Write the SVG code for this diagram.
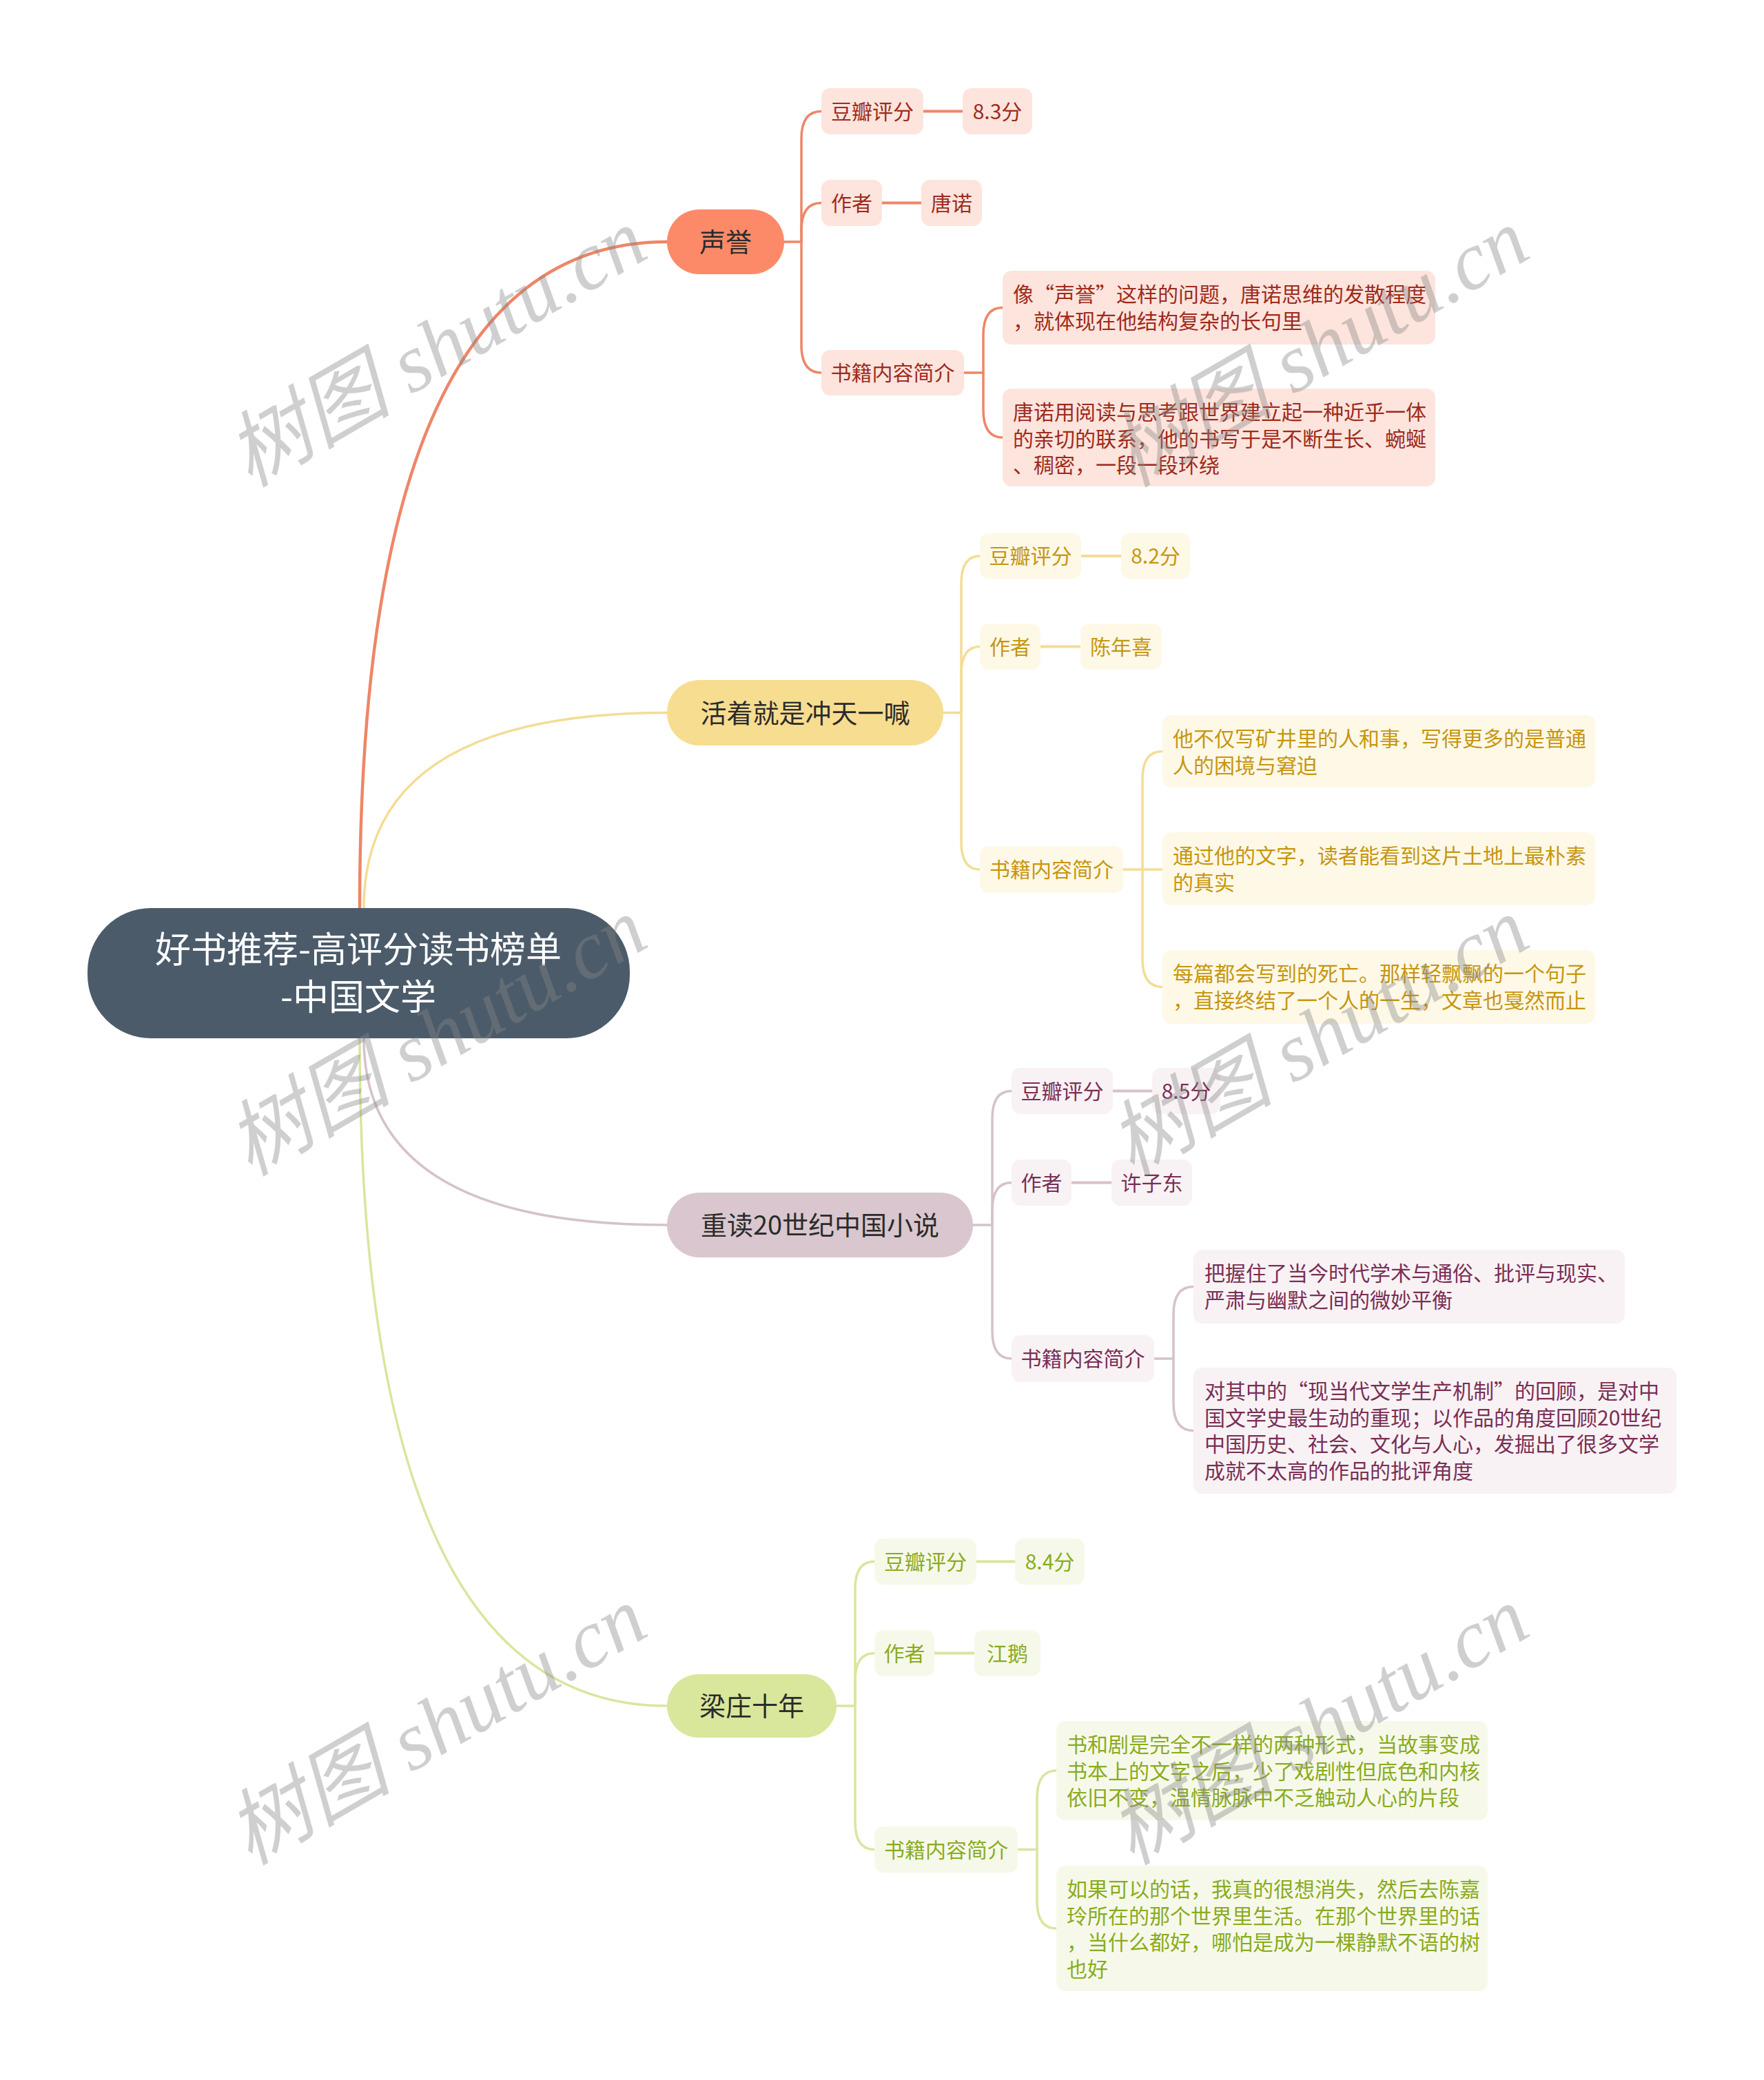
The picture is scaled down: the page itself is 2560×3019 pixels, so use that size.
<svg xmlns="http://www.w3.org/2000/svg" width="2560" height="3019" viewBox="0 0 2560 3019">
<style>
text{font-family:"Noto Sans CJK SC","Liberation Sans",sans-serif;}
.rt{font-size:52px;fill:#ffffff;text-anchor:middle;}
.bt{font-size:38px;fill:#2b2b2b;text-anchor:middle;}
.st{font-size:30px;text-anchor:middle;}
.lt{font-size:30px;}
.c{fill:none;stroke-linecap:round;}
.c1{stroke:#EE8667;}
.c2{stroke:#F3DD95;}
.c3{stroke:#D5C2CA;}
.c4{stroke:#D8E69F;}
.s1{fill:#FDE4DD;} .t1{fill:#9E2B1B;}
.s2{fill:#FEF8E7;} .t2{fill:#C6960F;}
.s3{fill:#F8F2F4;} .t3{fill:#7A2E55;}
.s4{fill:#F6F9E9;} .t4{fill:#8AAB1F;}
.wm{font-family:"Liberation Serif","Noto Sans CJK SC",serif;font-style:italic;font-size:120px;fill:#888888;fill-opacity:0.4;text-anchor:middle;}
</style>
<rect width="2560" height="3019" fill="#ffffff"/>
<g id="connectors">
  <path class="c c1" stroke-width="4.5" d="M 522 1318 Q 522 351 968 351"/>
  <path class="c c2" stroke-width="3.5" d="M 528 1318 Q 528 1034.5 968 1034.5"/>
  <path class="c c3" stroke-width="3.5" d="M 528 1507 Q 528 1778 968 1778"/>
  <path class="c c4" stroke-width="3.5" d="M 522 1507 Q 522 2476 968 2476"/>
  <!-- branch 1 -->
  <g class="c c1" stroke-width="3.5">
    <path d="M 1138 351 H 1163"/>
    <path d="M 1163 351 V 201.5 Q 1163 161.5 1192 161.5"/>
    <path d="M 1163 351 V 334.5 Q 1163 294.5 1192 294.5"/>
    <path d="M 1163 351 V 501 Q 1163 541 1192 541"/>
    <path d="M 1340 161.5 H 1397" stroke-width="4"/>
    <path d="M 1280 294.5 H 1337" stroke-width="4"/>
    <path d="M 1399 541 H 1427"/>
    <path d="M 1427 541 V 486.5 Q 1427 446.5 1455 446.5"/>
    <path d="M 1427 541 V 595 Q 1427 635 1455 635"/>
  </g>
  <!-- branch 2 -->
  <g class="c c2" stroke-width="3.5">
    <path d="M 1369 1034.5 H 1395"/>
    <path d="M 1395 1034.5 V 847 Q 1395 807 1422 807"/>
    <path d="M 1395 1034.5 V 978.5 Q 1395 938.5 1422 938.5"/>
    <path d="M 1395 1034.5 V 1222 Q 1395 1262 1422 1262"/>
    <path d="M 1569 807 H 1627" stroke-width="4"/>
    <path d="M 1510 938.5 H 1568" stroke-width="4"/>
    <path d="M 1630 1262 H 1687"/>
    <path d="M 1658 1262 V 1130.5 Q 1658 1090.5 1687 1090.5"/>
    <path d="M 1658 1262 V 1392.5 Q 1658 1432.5 1687 1432.5"/>
  </g>
  <!-- branch 3 -->
  <g class="c c3" stroke-width="3.5">
    <path d="M 1412 1778 H 1440"/>
    <path d="M 1440 1778 V 1623.5 Q 1440 1583.5 1468 1583.5"/>
    <path d="M 1440 1778 V 1756.5 Q 1440 1716.5 1468 1716.5"/>
    <path d="M 1440 1778 V 1932 Q 1440 1972 1468 1972"/>
    <path d="M 1615 1583.5 H 1672" stroke-width="4"/>
    <path d="M 1555 1716.5 H 1613" stroke-width="4"/>
    <path d="M 1675 1972 H 1703"/>
    <path d="M 1703 1972 V 1907.5 Q 1703 1867.5 1732 1867.5"/>
    <path d="M 1703 1972 V 2036.5 Q 1703 2076.5 1732 2076.5"/>
  </g>
  <!-- branch 4 -->
  <g class="c c4" stroke-width="3.5">
    <path d="M 1214 2476 H 1241"/>
    <path d="M 1241 2476 V 2306.5 Q 1241 2266.5 1269 2266.5"/>
    <path d="M 1241 2476 V 2439.5 Q 1241 2399.5 1269 2399.5"/>
    <path d="M 1241 2476 V 2644.5 Q 1241 2684.5 1269 2684.5"/>
    <path d="M 1417 2266.5 H 1473" stroke-width="4"/>
    <path d="M 1356 2399.5 H 1414" stroke-width="4"/>
    <path d="M 1477 2684.5 H 1505"/>
    <path d="M 1505 2684.5 V 2610 Q 1505 2570 1533 2570"/>
    <path d="M 1505 2684.5 V 2759 Q 1505 2799 1533 2799"/>
  </g>
</g>

<g id="root">
  <rect x="127" y="1318" width="787" height="189" rx="92" fill="#4B5B6A"/>
  <text class="rt" x="520" y="1397">好书推荐-高评分读书榜单</text>
  <text class="rt" x="520" y="1466">-中国文学</text>
</g>

<!-- Branch 1 -->
<g id="b1">
  <rect x="968" y="304" width="170" height="94" rx="47" fill="#FC8A68"/>
  <text class="bt" x="1053" y="365">声誉</text>
</g>
<g id="b1-rating"><rect class="s1" x="1192" y="128" width="148" height="67" rx="13"/><text class="st t1" x="1266" y="172.5">豆瓣评分</text></g>
<g id="b1-rating-v"><rect class="s1" x="1397" y="128" width="101" height="67" rx="13"/><text class="st t1" x="1447.5" y="172.5">8.3分</text></g>
<g id="b1-author"><rect class="s1" x="1192" y="261" width="88" height="67" rx="13"/><text class="st t1" x="1236" y="305.5">作者</text></g>
<g id="b1-author-v"><rect class="s1" x="1337" y="261" width="88" height="67" rx="13"/><text class="st t1" x="1381" y="305.5">唐诺</text></g>
<g id="b1-intro"><rect class="s1" x="1192" y="508" width="207" height="66" rx="13"/><text class="st t1" x="1295.5" y="552">书籍内容简介</text></g>
<g id="b1-l1"><rect class="s1" x="1455" y="393" width="628" height="107" rx="13"/>
  <text class="lt t1" x="1470" y="438">像“声誉”这样的问题，唐诺思维的发散程度</text>
  <text class="lt t1" x="1470" y="476.5">，就体现在他结构复杂的长句里</text></g>
<g id="b1-l2"><rect class="s1" x="1455" y="564" width="628" height="142" rx="13"/>
  <text class="lt t1" x="1470" y="609">唐诺用阅读与思考跟世界建立起一种近乎一体</text>
  <text class="lt t1" x="1470" y="647.5">的亲切的联系，他的书写于是不断生长、蜿蜒</text>
  <text class="lt t1" x="1470" y="686">、稠密，一段一段环绕</text></g>

<!-- Branch 2 -->
<g id="b2">
  <rect x="968" y="987" width="401" height="95" rx="47" fill="#F7DD90"/>
  <text class="bt" x="1168.5" y="1049">活着就是冲天一喊</text>
</g>
<g id="b2-rating"><rect class="s2" x="1422" y="774" width="147" height="66" rx="13"/><text class="st t2" x="1495.5" y="818">豆瓣评分</text></g>
<g id="b2-rating-v"><rect class="s2" x="1627" y="774" width="100" height="66" rx="13"/><text class="st t2" x="1677" y="818">8.2分</text></g>
<g id="b2-author"><rect class="s2" x="1422" y="905" width="88" height="67" rx="13"/><text class="st t2" x="1466" y="949.5">作者</text></g>
<g id="b2-author-v"><rect class="s2" x="1568" y="905" width="118" height="67" rx="13"/><text class="st t2" x="1627" y="949.5">陈年喜</text></g>
<g id="b2-intro"><rect class="s2" x="1422" y="1228" width="208" height="68" rx="13"/><text class="st t2" x="1526" y="1273">书籍内容简介</text></g>
<g id="b2-l1"><rect class="s2" x="1687" y="1038" width="628" height="105" rx="13"/>
  <text class="lt t2" x="1702" y="1083">他不仅写矿井里的人和事，写得更多的是普通</text>
  <text class="lt t2" x="1702" y="1121.5">人的困境与窘迫</text></g>
<g id="b2-l2"><rect class="s2" x="1687" y="1208" width="628" height="106" rx="13"/>
  <text class="lt t2" x="1702" y="1253">通过他的文字，读者能看到这片土地上最朴素</text>
  <text class="lt t2" x="1702" y="1291.5">的真实</text></g>
<g id="b2-l3"><rect class="s2" x="1687" y="1379" width="628" height="107" rx="13"/>
  <text class="lt t2" x="1702" y="1424">每篇都会写到的死亡。那样轻飘飘的一个句子</text>
  <text class="lt t2" x="1702" y="1462.5">，直接终结了一个人的一生，文章也戛然而止</text></g>

<!-- Branch 3 -->
<g id="b3">
  <rect x="968" y="1731" width="444" height="94" rx="47" fill="#D9C6CE"/>
  <text class="bt" x="1190" y="1792">重读20世纪中国小说</text>
</g>
<g id="b3-rating"><rect class="s3" x="1468" y="1550" width="147" height="67" rx="13"/><text class="st t3" x="1541.5" y="1594.5">豆瓣评分</text></g>
<g id="b3-rating-v"><rect class="s3" x="1672" y="1550" width="99" height="67" rx="13"/><text class="st t3" x="1721.5" y="1594.5">8.5分</text></g>
<g id="b3-author"><rect class="s3" x="1468" y="1683" width="87" height="67" rx="13"/><text class="st t3" x="1511.5" y="1727.5">作者</text></g>
<g id="b3-author-v"><rect class="s3" x="1613" y="1683" width="117" height="67" rx="13"/><text class="st t3" x="1671.5" y="1727.5">许子东</text></g>
<g id="b3-intro"><rect class="s3" x="1468" y="1938" width="207" height="68" rx="13"/><text class="st t3" x="1571.5" y="1983">书籍内容简介</text></g>
<g id="b3-l1"><rect class="s3" x="1732" y="1814" width="626" height="107" rx="13"/>
  <text class="lt t3" x="1748" y="1859">把握住了当今时代学术与通俗、批评与现实、</text>
  <text class="lt t3" x="1748" y="1897.5">严肃与幽默之间的微妙平衡</text></g>
<g id="b3-l2"><rect class="s3" x="1732" y="1985" width="701" height="183" rx="13"/>
  <text class="lt t3" x="1748" y="2030">对其中的“现当代文学生产机制”的回顾，是对中</text>
  <text class="lt t3" x="1748" y="2068.5">国文学史最生动的重现；以作品的角度回顾20世纪</text>
  <text class="lt t3" x="1748" y="2107">中国历史、社会、文化与人心，发掘出了很多文学</text>
  <text class="lt t3" x="1748" y="2145.5">成就不太高的作品的批评角度</text></g>

<!-- Branch 4 -->
<g id="b4">
  <rect x="968" y="2430" width="246" height="92" rx="46" fill="#D8E79B"/>
  <text class="bt" x="1091" y="2490">梁庄十年</text>
</g>
<g id="b4-rating"><rect class="s4" x="1269" y="2233" width="148" height="67" rx="13"/><text class="st t4" x="1343" y="2277.5">豆瓣评分</text></g>
<g id="b4-rating-v"><rect class="s4" x="1473" y="2233" width="101" height="67" rx="13"/><text class="st t4" x="1523.5" y="2277.5">8.4分</text></g>
<g id="b4-author"><rect class="s4" x="1269" y="2366" width="87" height="67" rx="13"/><text class="st t4" x="1312.5" y="2410.5">作者</text></g>
<g id="b4-author-v"><rect class="s4" x="1414" y="2366" width="96" height="67" rx="13"/><text class="st t4" x="1462" y="2410.5">江鹅</text></g>
<g id="b4-intro"><rect class="s4" x="1269" y="2651" width="208" height="67" rx="13"/><text class="st t4" x="1373" y="2695.5">书籍内容简介</text></g>
<g id="b4-l1"><rect class="s4" x="1533" y="2498" width="626" height="144" rx="13"/>
  <text class="lt t4" x="1548" y="2543">书和剧是完全不一样的两种形式，当故事变成</text>
  <text class="lt t4" x="1548" y="2581.5">书本上的文字之后，少了戏剧性但底色和内核</text>
  <text class="lt t4" x="1548" y="2620">依旧不变，温情脉脉中不乏触动人心的片段</text></g>
<g id="b4-l2"><rect class="s4" x="1533" y="2708" width="626" height="182" rx="13"/>
  <text class="lt t4" x="1548" y="2753">如果可以的话，我真的很想消失，然后去陈嘉</text>
  <text class="lt t4" x="1548" y="2791.5">玲所在的那个世界里生活。在那个世界里的话</text>
  <text class="lt t4" x="1548" y="2830">，当什么都好，哪怕是成为一棵静默不语的树</text>
  <text class="lt t4" x="1548" y="2868.5">也好</text></g>

<g id="watermarks">
  <text class="wm" transform="translate(654 540) rotate(-30)">树图 shutu.cn</text>
  <text class="wm" transform="translate(654 1540) rotate(-30)">树图 shutu.cn</text>
  <text class="wm" transform="translate(654 2540) rotate(-30)">树图 shutu.cn</text>
  <text class="wm" transform="translate(1934 540) rotate(-30)">树图 shutu.cn</text>
  <text class="wm" transform="translate(1934 1540) rotate(-30)">树图 shutu.cn</text>
  <text class="wm" transform="translate(1934 2540) rotate(-30)">树图 shutu.cn</text>
</g>
</svg>
